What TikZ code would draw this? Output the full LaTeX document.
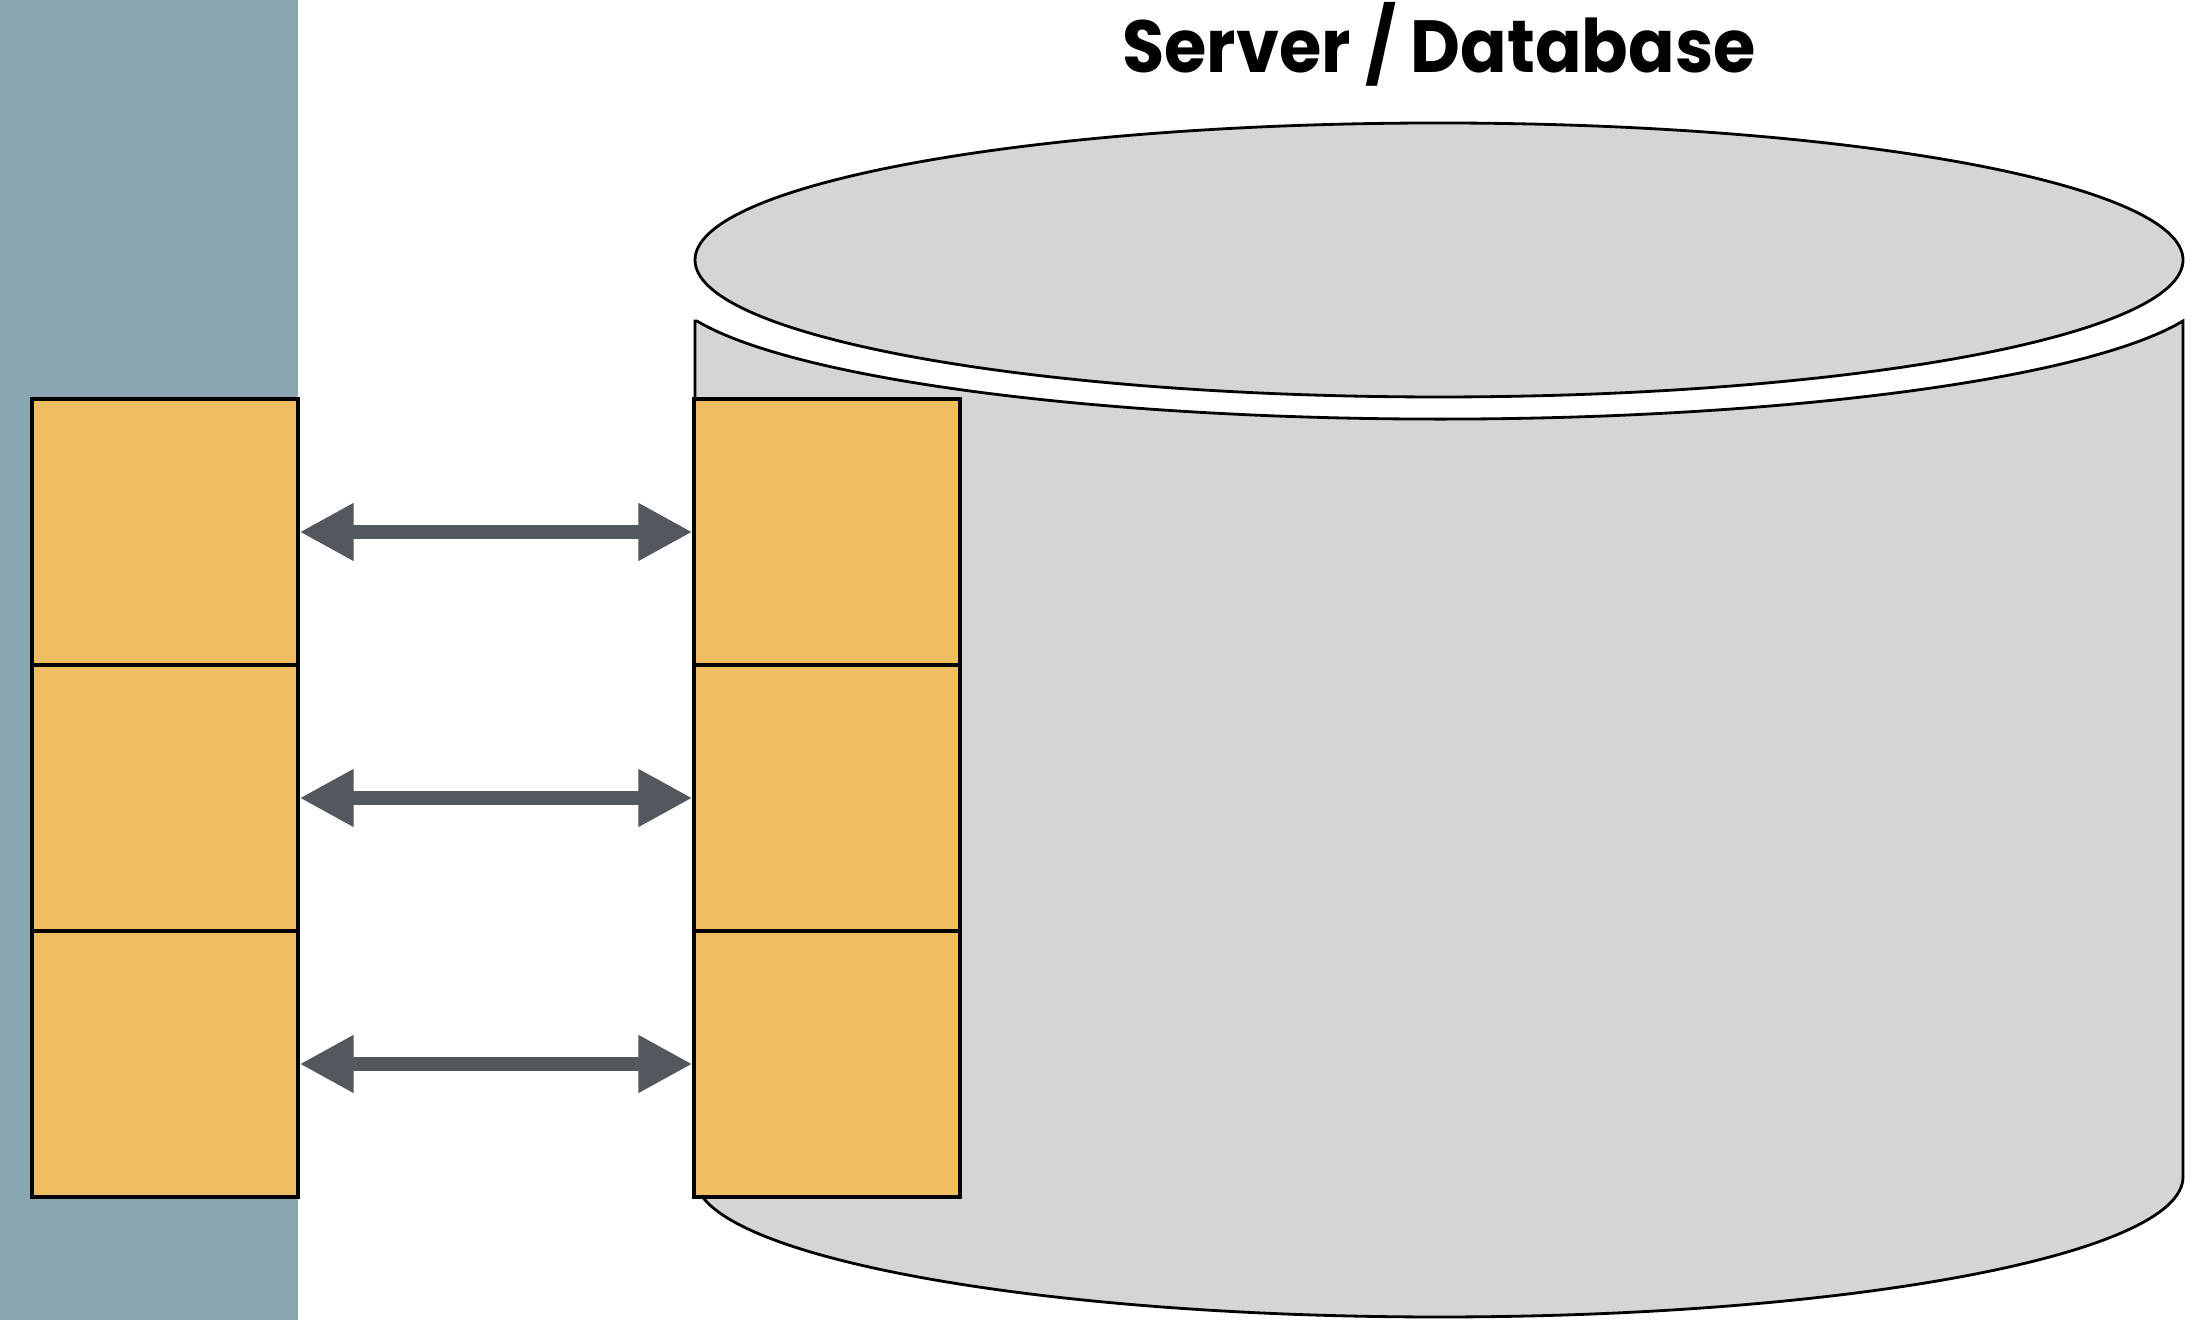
\documentclass[tikz,border=0pt]{standalone}
\usepackage{fontspec}
\newfontfamily\titlefont{Poppins}
\usepackage{tikz}
\usetikzlibrary{arrows.meta}

\definecolor{panelblue}{HTML}{89A7B1}
\definecolor{slotyellow}{HTML}{EFBE60}
\definecolor{dbgrey}{HTML}{D5D5D5}
\definecolor{linkgrey}{HTML}{53585F}

\tikzset{
  slot/.style={draw=black, fill=slotyellow, line width=0.9pt, inner sep=0pt,
    minimum width=2.66cm, minimum height=2.66cm},
  link/.style={linkgrey, line width=0.14cm,
    {Triangle[length=0.54cm,width=0.54cm]}-{Triangle[length=0.54cm,width=0.54cm]}}
}

\begin{document}
\begin{tikzpicture}
    \useasboundingbox (0, 0) rectangle (22.03, 13.20);
    \fill[panelblue] (0, 0) rectangle (2.98, 13.20);
    % database body and lid
    \draw[fill=dbgrey, line width=0.8pt] (6.95, 9.99) -- (6.95, 1.43)
      arc[start angle=180, end angle=360, x radius=7.44, y radius=1.40]
      -- (21.83, 9.99)
      arc[start angle=343.5, end angle=196.5, x radius=7.75, y radius=1.37] -- cycle;
    \draw[fill=dbgrey, line width=0.8pt] (14.39, 10.60) ellipse [x radius=7.44, y radius=1.37];
    \node[font=\titlefont\bfseries\fontsize{21}{25}\selectfont, anchor=base] (title) at (14.39, 12.47) {\scalebox{0.93}[1]{Server / Database}};
    % client side
    \node[slot] (c1) at (1.65, 7.88) {};
    \node[slot] (c2) at (1.65, 5.22) {};
    \node[slot] (c3) at (1.65, 2.56) {};
    % server side
    \node[slot] (s1) at (8.27, 7.88) {};
    \node[slot] (s2) at (8.27, 5.22) {};
    \node[slot] (s3) at (8.27, 2.56) {};
    \draw[link] (c1.east) -- (s1.west);
    \draw[link] (c2.east) -- (s2.west);
    \draw[link] (c3.east) -- (s3.west);
\end{tikzpicture}
\end{document}
